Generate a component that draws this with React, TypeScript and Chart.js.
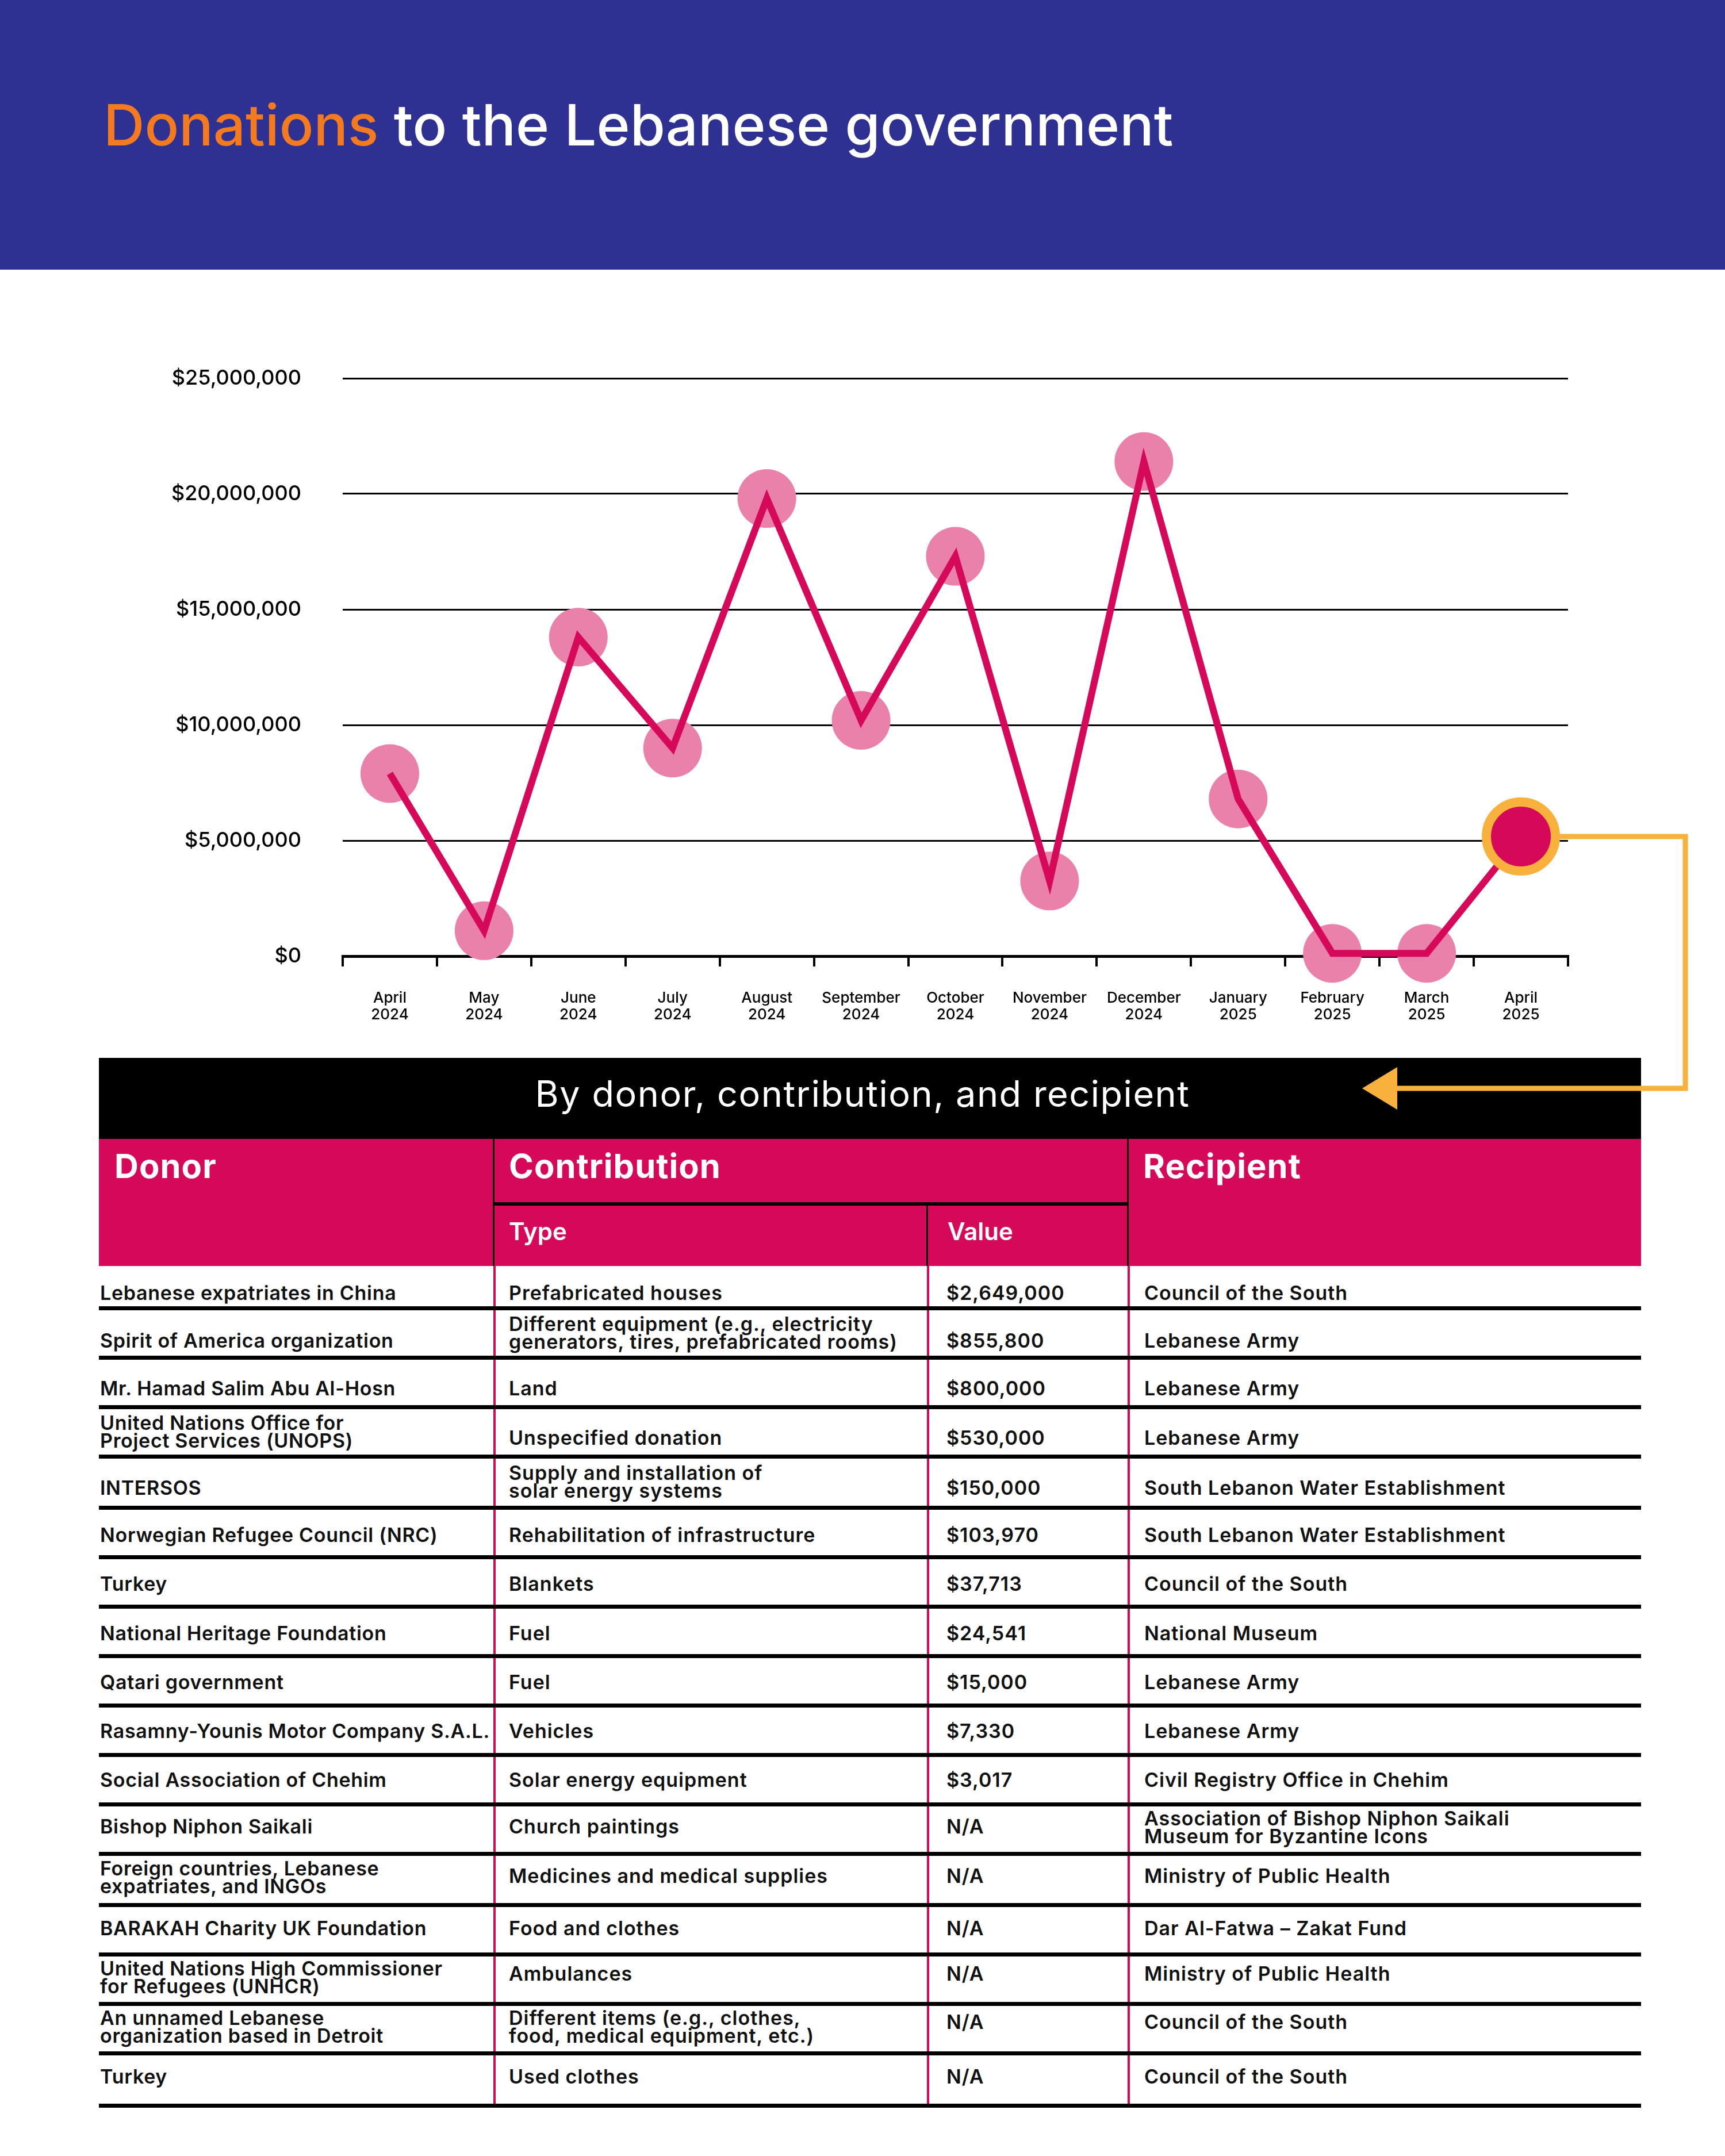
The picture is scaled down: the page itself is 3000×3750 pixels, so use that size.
import React, { useEffect, useRef } from 'react';
import { Chart, registerables } from 'chart.js';

Chart.register(...registerables);

// ---------- DATA ----------
const monthLabels: string[][] = [
  ['April', '2024'], ['May', '2024'], ['June', '2024'], ['July', '2024'],
  ['August', '2024'], ['September', '2024'], ['October', '2024'], ['November', '2024'],
  ['December', '2024'], ['January', '2025'], ['February', '2025'], ['March', '2025'],
  ['April', '2025'],
];
const donationValues: number[] = [
  7900000, 1100000, 13800000, 9000000, 19800000, 10200000, 17300000,
  3250000, 21400000, 6800000, 120000, 120000, 5176371,
];
const highlightIndex = 12;
const yMax = 25000000;
const yStep = 5000000;

const tableTitle = 'By donor, contribution, and recipient';
const headerMain = ['Donor', 'Contribution', 'Recipient'];
const headerSub = ['Type', 'Value'];

const donors: string[] = [
  'Lebanese expatriates in China',
  'Spirit of America organization',
  'Mr. Hamad Salim Abu Al-Hosn',
  'United Nations Office for\nProject Services (UNOPS)',
  'INTERSOS',
  'Norwegian Refugee Council (NRC)',
  'Turkey',
  'National Heritage Foundation',
  'Qatari government',
  'Rasamny-Younis Motor Company S.A.L.',
  'Social Association of Chehim',
  'Bishop Niphon Saikali',
  'Foreign countries, Lebanese\nexpatriates, and INGOs',
  'BARAKAH Charity UK Foundation',
  'United Nations High Commissioner\nfor Refugees (UNHCR)',
  'An unnamed Lebanese\norganization based in Detroit',
  'Turkey',
];
const contributionTypes: string[] = [
  'Prefabricated houses',
  'Different equipment (e.g., electricity\ngenerators, tires, prefabricated rooms)',
  'Land',
  'Unspecified donation',
  'Supply and installation of\nsolar energy systems',
  'Rehabilitation of infrastructure',
  'Blankets',
  'Fuel',
  'Fuel',
  'Vehicles',
  'Solar energy equipment',
  'Church paintings',
  'Medicines and medical supplies',
  'Food and clothes',
  'Ambulances',
  'Different items (e.g., clothes,\nfood, medical equipment, etc.)',
  'Used clothes',
];
const contributionValues: string[] = [
  '$2,649,000', '$855,800', '$800,000', '$530,000', '$150,000', '$103,970',
  '$37,713', '$24,541', '$15,000', '$7,330', '$3,017',
  'N/A', 'N/A', 'N/A', 'N/A', 'N/A', 'N/A',
];
const recipients: string[] = [
  'Council of the South',
  'Lebanese Army',
  'Lebanese Army',
  'Lebanese Army',
  'South Lebanon Water Establishment',
  'South Lebanon Water Establishment',
  'Council of the South',
  'National Museum',
  'Lebanese Army',
  'Lebanese Army',
  'Civil Registry Office in Chehim',
  'Association of Bishop Niphon Saikali\nMuseum for Byzantine Icons',
  'Ministry of Public Health',
  'Dar Al-Fatwa – Zakat Fund',
  'Ministry of Public Health',
  'Council of the South',
  'Council of the South',
];

// ---------- STYLE ----------
const BLUE = '#2E3192';
const ORANGE_TITLE = '#F47A20';
const PINK = '#D6085A';
const PINK_LIGHT = '#E981AA';
const GOLD = '#F8B13C';
const FONT = 'Inter, "Noto Sans", "DejaVu Sans", sans-serif';

const CANVAS_TOP = 469;
const CANVAS_H = 1500;

const connectorPlugin = {
  id: 'connector',
  afterDraw(chart: any) {
    const meta = chart.getDatasetMeta(2);
    const pt = meta.data[highlightIndex];
    if (!pt) return;
    const ctx = chart.ctx;
    const cornerX = 2931;
    const arrowY = 1893 - CANVAS_TOP;
    const baseX = 2430;
    const tipX = 2369;
    ctx.save();
    ctx.strokeStyle = GOLD;
    ctx.lineWidth = 9;
    ctx.lineJoin = 'miter';
    ctx.beginPath();
    ctx.moveTo(pt.x + 64, pt.y);
    ctx.lineTo(cornerX, pt.y);
    ctx.lineTo(cornerX, arrowY);
    ctx.lineTo(baseX, arrowY);
    ctx.stroke();
    ctx.fillStyle = GOLD;
    ctx.beginPath();
    ctx.moveTo(tipX, arrowY);
    ctx.lineTo(baseX, arrowY - 37);
    ctx.lineTo(baseX, arrowY + 37);
    ctx.closePath();
    ctx.fill();
    ctx.restore();
  },
};

function DonationChart() {
  const ref = useRef<HTMLCanvasElement | null>(null);
  useEffect(() => {
    if (!ref.current) return;
    const chart = new Chart(ref.current, {
      type: 'line',
      data: {
        labels: monthLabels,
        datasets: [
          {
            label: 'markers',
            data: donationValues,
            showLine: false,
            pointRadius: donationValues.map((_, i) => (i === highlightIndex ? 0 : 51)),
            pointHoverRadius: donationValues.map((_, i) => (i === highlightIndex ? 0 : 51)),
            pointBackgroundColor: PINK_LIGHT,
            pointBorderWidth: 0,
            pointBorderColor: PINK_LIGHT,
            order: 2,
            clip: false,
          } as any,
          {
            label: 'line',
            data: donationValues,
            borderColor: PINK,
            borderWidth: 12,
            borderJoinStyle: 'miter',
            borderCapStyle: 'butt',
            pointRadius: 0,
            pointHoverRadius: 0,
            tension: 0,
            fill: false,
            order: 1,
            clip: false,
          } as any,
          {
            label: 'highlight',
            data: donationValues.map((v, i) => (i === highlightIndex ? v : null)),
            showLine: false,
            pointRadius: 60,
            pointHoverRadius: 60,
            pointBorderWidth: 16,
            pointBorderColor: GOLD,
            pointBackgroundColor: PINK,
            order: 0,
            clip: false,
          } as any,
        ],
      },
      options: {
        responsive: false,
        animation: false,
        devicePixelRatio: 1,
        events: [],
        layout: { padding: { top: 189, right: 273, bottom: 0, left: 0 } },
        plugins: { legend: { display: false }, tooltip: { enabled: false } },
        scales: {
          x: {
            type: 'category',
            offset: true,
            z: 1,
            grid: {
              offset: true,
              drawOnChartArea: false,
              drawTicks: true,
              tickLength: 18,
              lineWidth: 4,
              color: '#000',
            },
            border: { display: true, width: 5, color: '#000' },
            ticks: {
              color: '#000',
              autoSkip: false,
              maxRotation: 0,
              padding: 41,
              font: { family: FONT, size: 26, weight: 500 as any, lineHeight: 1.12 },
            },
            afterFit: (s: any) => { s.height = CANVAS_H - 1194; },
          },
          y: {
            min: 0,
            max: yMax,
            grid: { color: '#000', lineWidth: 3, drawTicks: false },
            border: { display: false },
            ticks: {
              stepSize: yStep,
              padding: 72,
              color: '#000',
              font: { family: FONT, size: 36, weight: 500 as any },
              callback: (v: any) => '$' + Number(v).toLocaleString('en-US'),
            },
            afterFit: (s: any) => { s.width = 596; },
          },
        },
      } as any,
      plugins: [connectorPlugin],
    });
    return () => chart.destroy();
  }, []);
  return (
    <canvas
      ref={ref}
      width={3000}
      height={CANVAS_H}
      style={{ position: 'absolute', left: 0, top: CANVAS_TOP, width: 3000, height: CANVAS_H, zIndex: 5, pointerEvents: 'none' }}
    />
  );
}

const COLS = [686, 754, 349, 893];
const BODY_PAD = [2, 27, 34, 29];

function rowHeight(i: number) {
  if (i === 0) return 77;
  if (i === donors.length - 1) return 91;
  if (i === 4 || i === 12) return 89;
  return 86;
}

// small per-row vertical nudges (layout only), in px
function nudge(i: number, multiCell: boolean, rowHasMulti: boolean) {
  const drift = (i >= 5 ? 1.25 : 0) + (i >= 13 ? 0.25 : 0);
  let s: number;
  if (multiCell) s = -1.5 - drift;
  else if (rowHasMulti) s = 5 - 0.65 * i - drift;
  else s = 3.5 - 0.35 * i - drift;
  return Math.round(s * 2.39);
}

export default function App() {
  return (
    <div style={{ position: 'absolute', left: 0, top: 0, width: 3000, height: 3750, background: '#fff', overflow: 'hidden', fontFamily: FONT }}>
      <div style={{ position: 'absolute', left: 0, top: 0, width: 3000, height: 469, background: BLUE }}>
        <div style={{ position: 'absolute', left: 180, top: 168, fontSize: 99, lineHeight: 1, fontWeight: 500, color: '#fff', whiteSpace: 'nowrap' }}>
          <span style={{ color: ORANGE_TITLE }}>Donations</span> to the Lebanese government
        </div>
      </div>

      <DonationChart />

      <div style={{ position: 'absolute', left: 172, top: 1840, width: 2682 }}>
        <div style={{ height: 141, background: '#000', color: '#fff', fontSize: 63, letterSpacing: 1.5, fontWeight: 400, display: 'flex', alignItems: 'center', justifyContent: 'center', paddingBottom: 18, paddingRight: 26, boxSizing: 'border-box', whiteSpace: 'nowrap' }}>
          {tableTitle}
        </div>
        <div style={{ position: 'relative', height: 221, background: PINK, color: '#fff' }}>
          <div style={{ position: 'absolute', left: 27, top: 14, fontSize: 58, fontWeight: 700, lineHeight: '66px', letterSpacing: 1 }}>{headerMain[0]}</div>
          <div style={{ position: 'absolute', left: COLS[0] + 27, top: 14, fontSize: 58, fontWeight: 700, lineHeight: '66px', letterSpacing: 1 }}>{headerMain[1]}</div>
          <div style={{ position: 'absolute', left: COLS[0] + COLS[1] + COLS[2] + 27, top: 14, fontSize: 58, fontWeight: 700, lineHeight: '66px', letterSpacing: 1 }}>{headerMain[2]}</div>
          <div style={{ position: 'absolute', left: COLS[0] + 27, top: 136, fontSize: 42, fontWeight: 600, lineHeight: '50px' }}>{headerSub[0]}</div>
          <div style={{ position: 'absolute', left: COLS[0] + COLS[1] + 36, top: 136, fontSize: 42, fontWeight: 600, lineHeight: '50px' }}>{headerSub[1]}</div>
          <div style={{ position: 'absolute', left: COLS[0] - 1, top: 0, width: 3, height: 221, background: '#000' }} />
          <div style={{ position: 'absolute', left: COLS[0] + COLS[1] + COLS[2] - 1, top: 0, width: 3, height: 221, background: '#000' }} />
          <div style={{ position: 'absolute', left: COLS[0] + COLS[1] - 1, top: 113, width: 3, height: 108, background: '#000' }} />
          <div style={{ position: 'absolute', left: COLS[0], top: 110, width: COLS[1] + COLS[2], height: 6, background: '#000' }} />
        </div>
        {donors.map((d, i) => {
          const cells = [d, contributionTypes[i], contributionValues[i], recipients[i]];
          const rowHasMulti = cells.some((c) => c.includes('\n'));
          return (
            <div key={i} style={{ display: 'flex', height: rowHeight(i), borderBottom: '7px solid #000', boxSizing: 'border-box' }}>
              {cells.map((c, j) => {
                const multi = c.includes('\n');
                return (
                  <div
                    key={j}
                    style={{
                      width: COLS[j],
                      flex: 'none',
                      boxSizing: 'border-box',
                      borderLeft: j === 0 ? 'none' : `4px solid ${PINK}`,
                      paddingLeft: BODY_PAD[j] - (j === 0 ? 0 : 4),
                      paddingTop: 6,
                      display: 'flex',
                      alignItems: 'center',
                      fontSize: 34,
                      letterSpacing: j === 0 ? 0.7 : 1,
                      fontWeight: 600,
                      lineHeight: '31px',
                      color: '#111',
                      whiteSpace: 'pre',
                      overflow: 'visible',
                    }}
                  >
                    <span style={{ whiteSpace: 'pre', display: 'block', transform: `translateY(${nudge(i, multi, rowHasMulti)}px)` }}>{c}</span>
                  </div>
                );
              })}
            </div>
          );
        })}
      </div>
    </div>
  );
}
